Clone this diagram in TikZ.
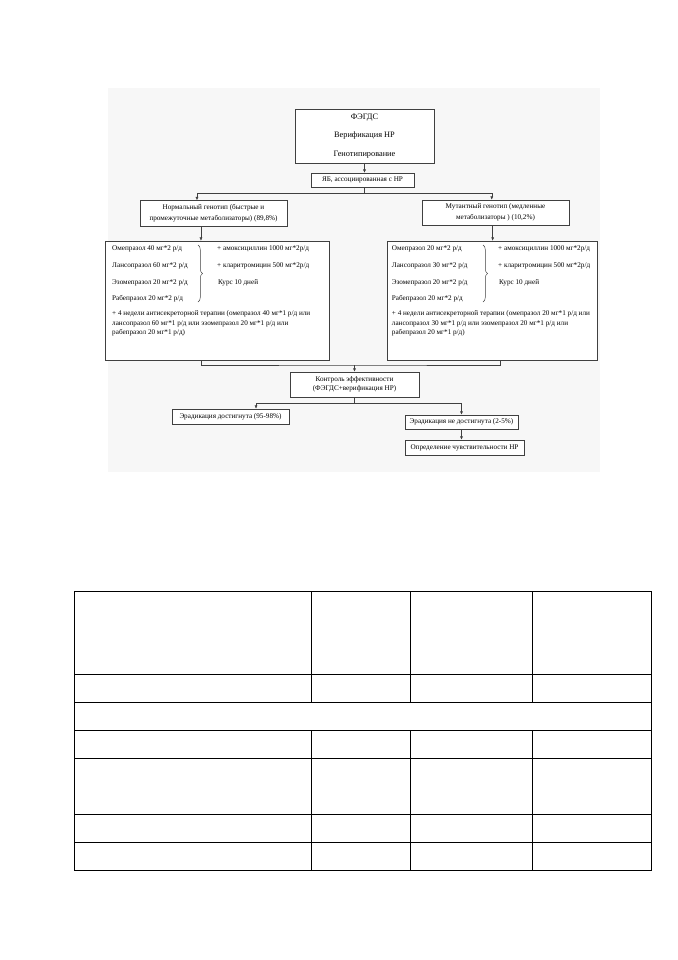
\documentclass[tikz,border=0pt]{standalone}
\usepackage{fontspec}
\setmainfont{Liberation Serif}
\usetikzlibrary{arrows.meta,decorations.pathreplacing}

\begin{document}
\begin{tikzpicture}[x=0.878pt, y=-0.878pt,
    every node/.style={font=\fontsize{6.3}{8.3}\selectfont},
    box/.style={draw=black!75, line width=0.4pt, fill=white, inner sep=1pt, align=center},
    txt/.style={inner sep=0pt, anchor=west},
    arr/.style={draw=black!75, line width=0.4pt, -{Latex[length=3pt,width=2.6pt]}},
    lnk/.style={draw=black!75, line width=0.4pt},
    brc/.style={draw=black!75, line width=0.4pt, decorate, decoration={brace, amplitude=4pt}},
    grid/.style={line width=0.9pt}]
  \useasboundingbox (0,0) rectangle (678,960);
  % scanned scheme background
  \fill[black!3] (108,88) rectangle (600,472);

  \node[box, minimum width=122pt, minimum height=47.4pt, font=\fontsize{7.3}{16.5}\selectfont]
    (fegds) at (364.5,136) {ФЭГДС\\Верификация НР\\Генотипирование};
  \node[box, minimum width=90.4pt, minimum height=12.3pt] (yab) at (362.5,180) {ЯБ, ассоциированная с НР};
  \node[box, minimum width=129pt, minimum height=22.4pt, font=\fontsize{6.3}{9.4}\selectfont]
    (lgeno) at (213.5,213.3) {Нормальный генотип (быстрые и\\промежуточные метаболизаторы) (89,8\%)};
  \node[box, minimum width=129pt, minimum height=22pt, font=\fontsize{6.3}{9.4}\selectfont]
    (rgeno) at (495.5,212.5) {Мутантный генотип (медленные\\метаболизаторы ) (10,2\%)};
  \node[box, minimum width=196.7pt, minimum height=104.5pt] (lbig) at (217,300.5) {};
  \node[box, minimum width=184.4pt, minimum height=104.5pt] (rbig) at (492,300.5) {};
  \node[box, minimum width=113.3pt, minimum height=22pt] (ctrl) at (354.5,384.5)
    {Контроль эффективности\\(ФЭГДС+верификация НР)};
  \node[box, minimum width=102.7pt, minimum height=13.2pt] (lres) at (230.5,416.5) {Эрадикация достигнута (95-98\%)};
  \node[box, minimum width=99.2pt, minimum height=12.7pt] (rres) at (461.5,422.2) {Эрадикация не достигнута (2-5\%)};
  \node[box, minimum width=104.5pt, minimum height=13.6pt] (sens) at (464.5,447.7) {Определение чувствительности НР};

  % left scheme
  \node[txt] (lome) at (112,249) {Омепразол 40 мг*2 р/д};
  \node[txt] (llan) at (112,266) {Лансопразол 60 мг*2 р/д};
  \node[txt] (lezo) at (112,282.7) {Эзомепразол 20 мг*2 р/д};
  \node[txt] (lrab) at (112,299) {Рабепразол 20 мг*2 р/д};
  \draw[brc] (198,245) -- (198,302);
  \node[txt] (lamo) at (217,249) {+ амоксициллин 1000 мг*2р/д};
  \node[txt] (lcla) at (217,266) {+ кларитромицин 500 мг*2р/д};
  \node[txt] (lkur) at (218,282.7) {Курс 10 дней};
  \node[txt, anchor=north west, align=left] (lanti) at (112,310.5)
    {+ 4 недели антисекреторной терапии (омепразол 40 мг*1 р/д или\\
     лансопразол 60 мг*1 р/д или эзомепразол 20 мг*1 р/д или\\
     рабепразол 20 мг*1 р/д)};

  % right scheme
  \node[txt] (rome) at (391.7,249) {Омепразол 20 мг*2 р/д};
  \node[txt] (rlan) at (391.7,266) {Лансопразол 30 мг*2 р/д};
  \node[txt] (rezo) at (391.7,282.7) {Эзомепразол 20 мг*2 р/д};
  \node[txt] (rrab) at (391.7,299) {Рабепразол 20 мг*2 р/д};
  \draw[brc] (483,245) -- (483,302);
  \node[txt] (ramo) at (498,249) {+ амоксициллин 1000 мг*2р/д};
  \node[txt] (rcla) at (498,266) {+ кларитромицин 500 мг*2р/д};
  \node[txt] (rkur) at (499,282.7) {Курс 10 дней};
  \node[txt, anchor=north west, align=left] (ranti) at (391.7,310.5)
    {+ 4 недели антисекреторной терапии (омепразол 20 мг*1 р/д или\\
     лансопразол 30 мг*1 р/д или эзомепразол 20 мг*1 р/д или\\
     рабепразол 20 мг*1 р/д)};

  % connectors
  \coordinate (fork1) at (364,193);
  \coordinate (join) at (354.5,365);
  \coordinate (fork2) at (354.5,403.7);
  \draw[arr] (fegds.south) -- (fegds.south |- yab.north);
  \draw[lnk] (yab.south -| fork1) -- (fork1);
  \draw[arr] (fork1) -| ([xshift=-14.5pt]lgeno.north);
  \draw[arr] (fork1) -| ([xshift=-3.3pt]rgeno.north);
  \draw[arr] ([xshift=-11pt]lgeno.south) -- ([xshift=-11pt]lgeno.south |- lbig.north);
  \draw[arr] ([xshift=-2.5pt]rgeno.south) -- ([xshift=-2.5pt]rgeno.south |- rbig.north);
  \draw[lnk] ([xshift=-14pt]lbig.south) |- (join) -| ([xshift=7pt]rbig.south);
  \draw[arr] (join) -- (ctrl.north);
  \draw[lnk] (ctrl.south) -- (fork2);
  \draw[arr] (fork2) -| ([xshift=22.4pt]lres.north);
  \draw[arr] (fork2) -| (rres.north);
  \draw[arr] (rres.south) -- (rres.south |- sens.north);

  % empty table
  \draw[grid] (74.7,591.3) rectangle (651.7,870.3);
  \draw[grid] (74.7,674.3) -- (651.7,674.3)
              (74.7,702.3) -- (651.7,702.3)
              (74.7,730.3) -- (651.7,730.3)
              (74.7,758.3) -- (651.7,758.3)
              (74.7,814.3) -- (651.7,814.3)
              (74.7,842.3) -- (651.7,842.3);
  \draw[grid] (311.7,591.3) -- (311.7,702.3)  (311.7,730.3) -- (311.7,870.3)
              (410.7,591.3) -- (410.7,702.3)  (410.7,730.3) -- (410.7,870.3)
              (532.7,591.3) -- (532.7,702.3)  (532.7,730.3) -- (532.7,870.3);
\end{tikzpicture}
\end{document}
